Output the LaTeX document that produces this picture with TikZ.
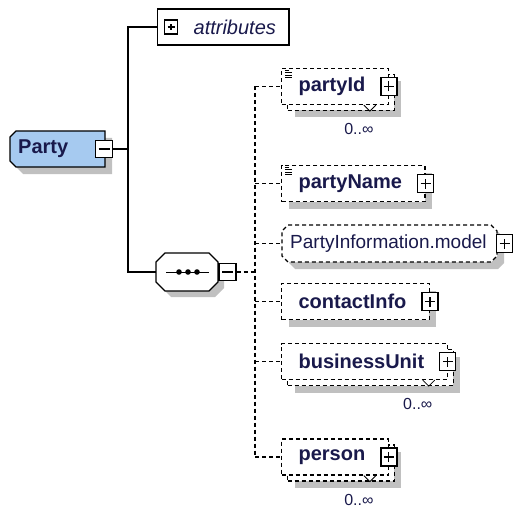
\documentclass[tikz,border=0pt]{standalone}
\usepackage{fontspec}
\setmainfont{Liberation Sans}

\definecolor{inktext}{RGB}{25,25,75}
\definecolor{partyfill}{RGB}{166,202,240}
\definecolor{shadowgray}{RGB}{192,192,192}

\newcommand{\elemfont}{\fontsize{20}{24}\selectfont\bfseries}
\newcommand{\groupfont}{\fontsize{19}{23}\selectfont}

\tikzset{
  boxline/.style={line width=1.3pt},
  dashline/.style={line width=1.2pt, dash pattern=on 4pt off 3pt},
  shadowed/.style={preaction={fill=shadowgray, draw=none, transform canvas={shift={(#1pt,-#1pt)}}}},
  shadowed/.default=7,
  copybox/.style={preaction={fill=white, draw=black, dashline, transform canvas={shift={(6pt,-6pt)}}}},
  elembox/.style={draw=black, dashline, fill=white, minimum height=36pt, inner sep=0pt,
    anchor=west, font=\elemfont, text=inktext},
  single_elem/.style={elembox, shadowed},
  multi_elem/.style={elembox, shadowed=13, copybox},
  plusbox/.style={draw=black, boxline, solid, fill=white, minimum width=16pt, minimum height=18pt, inner sep=0pt,
    path picture={\draw[line width=1.2pt] ([xshift=3pt]path picture bounding box.west) -- ([xshift=-3pt]path picture bounding box.east)
      ([yshift=4pt]path picture bounding box.south) -- ([yshift=-4pt]path picture bounding box.north);}},
  minusbox/.style={draw=black, boxline, solid, fill=white, minimum size=17pt, inner sep=0pt,
    path picture={\draw[line width=1.2pt] ([xshift=3pt]path picture bounding box.west) -- ([xshift=-3pt]path picture bounding box.east);}},
  occurs/.style={font=\fontsize{16}{18}\selectfont, text=inktext, inner sep=0pt}
}

\begin{document}
\begin{tikzpicture}[x=1pt, y=-1pt]
  \useasboundingbox (0,0) rectangle (514,508);
  \coordinate (trunk) at (128,0);
  \coordinate (dtrunk) at (255,0);

  % Party
  \filldraw[fill=partyfill, boxline, shadowed] (16,131) -- (105,131) -- (105,167) -- (16,167) -- (10,161) -- (10,137) -- cycle;
  \node[font=\elemfont, text=inktext, anchor=west, inner sep=0pt] (party) at (18,149) {Party};
  \node[minusbox] (party_minus) at (104,149) {};

  % attributes
  \node[draw=black, boxline, anchor=west, minimum height=36pt, inner sep=0pt,
    font=\fontsize{20}{24}\selectfont\itshape, text=inktext] (attrs) at (157,27) {\hspace*{36pt}attributes\hspace*{13pt}};
  \node[plusbox, minimum width=13pt, minimum height=14pt] (attrs_plus) at (171,27) {};

  % sequence
  \filldraw[fill=white, boxline, shadowed=6] (165,253) -- (209,253) -- (218,262) -- (218,282) -- (209,291) -- (165,291) -- (156,282) -- (156,262) -- cycle;
  \node[inner sep=0pt, minimum width=62pt, minimum height=38pt] (seq) at (187,272) {};
  \draw[line width=1pt] (166,272) -- (209,272);
  \foreach \x in {179,188,197}
    \fill (\x,272) circle (2.8);
  \node[minusbox] (seq_minus) at (227.5,272) {};

  \draw[boxline] (party_minus.east) -- (party_minus.east -| trunk);
  \draw[boxline] (attrs.west) -- (attrs.west -| trunk) -- (seq.west -| trunk) -- (seq.west);

  % group
  \filldraw[fill=white, dashline, shadowed] (288,225) -- (491,225) -- (497,231) -- (497,256) -- (491,262) -- (288,262) -- (282,256) -- (282,231) -- cycle;
  \node[font=\groupfont, text=inktext, anchor=west, inner sep=0pt, minimum height=37pt] (party_info) at (282,243.5) {\hspace*{8pt}PartyInformation.model\hspace*{11pt}};
  \node[plusbox] (party_info_plus) at (504.5,243.5) {};

  % elements
  \node[multi_elem] (party_id) at (281,86.5) {\hspace*{17pt}partyId\hspace*{23pt}};
  \node[single_elem] (party_name) at (281,183.5) {\hspace*{17pt}partyName\hspace*{23pt}};
  \node[single_elem] (contact_info) at (281,301.5) {\hspace*{17pt}contactInfo\hspace*{23pt}};
  \node[multi_elem] (business_unit) at (281,361.5) {\hspace*{17pt}businessUnit\hspace*{23pt}};
  \node[multi_elem] (person) at (281,457) {\hspace*{17pt}person\hspace*{23pt}};

  \draw[dashline] (seq_minus.east) -- (seq_minus.east -| dtrunk);
  \draw[dashline] (party_id.west -| dtrunk) -- (person.west -| dtrunk);
  \foreach \n in {party_id,party_name,party_info,contact_info,business_unit,person}
    \draw[dashline] (\n.west -| dtrunk) -- (\n.west);

  \foreach \n in {party_id,party_name,contact_info,business_unit,person}
    \node[plusbox] (\n_plus) at (\n.east) {};

  % simple content marks
  \foreach \n in {party_id,party_name}
    \foreach \dy/\len in {2/4,4.5/7,7/7,9.5/7}
      \draw[line width=0.7pt] ([xshift=4pt,yshift=-\dy pt]\n.north west) -- ++(\len,0);

  % occurrences
  \foreach \n in {party_id,business_unit,person} {
    \draw[line width=0.8pt] ([xshift=-25pt]\n.south east) -- ([xshift=-19pt,yshift=-6pt]\n.south east) -- ([xshift=-13pt]\n.south east);
    \node[occurs] (\n_occurs) at ([xshift=-30pt,yshift=-24pt]\n.south east) {0..∞};
  }
\end{tikzpicture}
\end{document}
